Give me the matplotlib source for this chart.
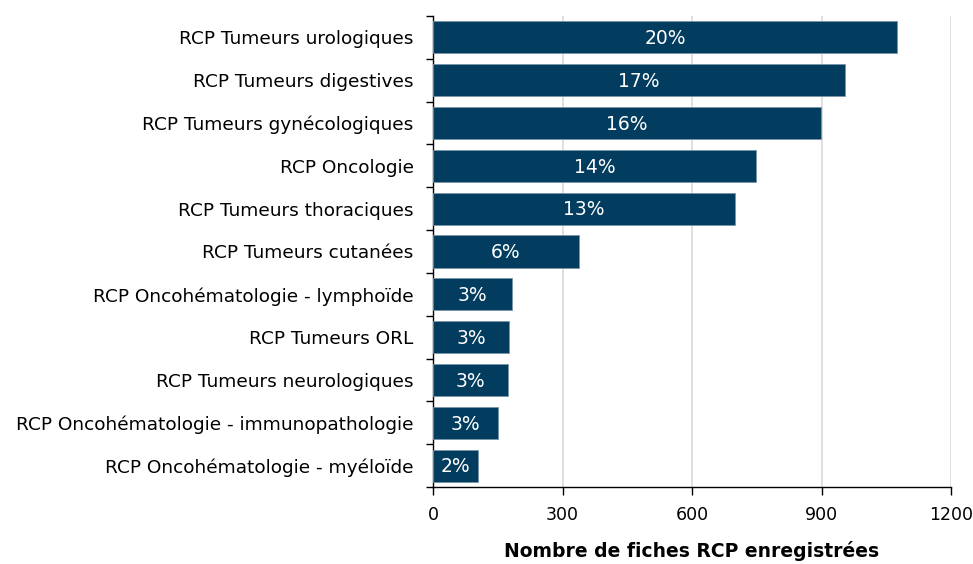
import matplotlib
matplotlib.use("Agg")
import matplotlib.pyplot as plt
import numpy as np

categories = [
    "RCP Tumeurs urologiques",
    "RCP Tumeurs digestives",
    "RCP Tumeurs gynécologiques",
    "RCP Oncologie",
    "RCP Tumeurs thoraciques",
    "RCP Tumeurs cutanées",
    "RCP Oncohématologie - lymphoïde",
    "RCP Tumeurs ORL",
    "RCP Tumeurs neurologiques",
    "RCP Oncohématologie - immunopathologie",
    "RCP Oncohématologie - myéloïde",
]
values = [1075, 954, 899, 749, 700, 338, 183, 176, 174, 151, 104]
pct_labels = ["20%", "17%", "16%", "14%", "13%", "6%", "3%", "3%", "3%", "3%", "2%"]
xticks = [0, 300, 600, 900, 1200]
xlabel = "Nombre de fiches RCP enregistrées"

plt.rcParams['font.family'] = ['DejaVu Sans']

fig = plt.figure(figsize=(9.73, 5.64), dpi=100)
ax = fig.add_axes([433/973, 1-487/564, (951-433)/973, (487-16)/564])

n = len(categories)
y = np.arange(n)
color = "#023c5e"
ax.barh(y, values, height=0.75, color=color, edgecolor="#7895a9", linewidth=0.6, zorder=3)
for yi, v, lab in zip(y, values, pct_labels):
    ax.text(v/2, yi + 0.03, lab, ha="center", va="center", color="white", fontsize=13.5, zorder=4)

ax.set_xlim(0, 1200)
ax.set_ylim(n - 0.5, -0.5)
ax.set_xticks(xticks)
ax.set_xticklabels([str(t) for t in xticks], fontsize=12.5)
ax.set_yticks(y)
ax.set_yticklabels(categories, fontsize=13.3)
ax.set_yticks(np.arange(-0.5, n, 1), minor=True)
ax.tick_params(axis="y", which="major", length=0, pad=14)
ax.tick_params(axis="y", which="minor", length=5, width=1, direction="out")
ax.tick_params(axis="x", which="major", length=6, width=1, direction="out", pad=8)

ax.grid(axis="x", color="#dcdcdc", linewidth=1.3, zorder=0)
ax.set_axisbelow(True)
for s in ["top", "right"]:
    ax.spines[s].set_visible(False)
ax.spines["left"].set_linewidth(1)
ax.spines["bottom"].set_linewidth(1)

ax.set_xlabel(xlabel, fontsize=13.5, fontweight="bold", labelpad=12)

fig.savefig("out.png", dpi=100)
